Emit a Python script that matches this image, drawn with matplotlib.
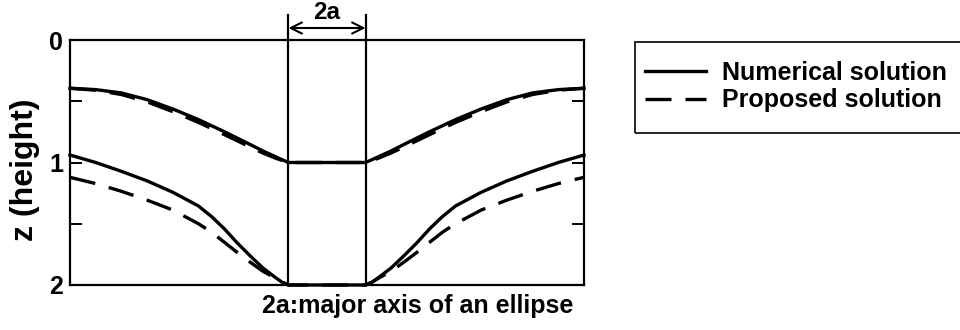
import numpy as np
import matplotlib
matplotlib.use("Agg")
import matplotlib.pyplot as plt
from matplotlib.patches import Rectangle

plt.rcParams["font.family"] = ["Liberation Sans", "DejaVu Sans"]
plt.rcParams["font.weight"] = "bold"

# half width of the ellipse (a) and the plotted range
a_half = 1.5
x_range = 10.0

# left half of each profile (x <= -a); the right half is the mirror image
x_half = [-10.0, -9.0, -8.0, -7.0, -6.0, -5.0, -4.5, -4.0, -3.5, -3.0,
          -2.5, -2.0, -1.75, -1.5]
z_upper_num = [0.394, 0.405, 0.432, 0.487, 0.563, 0.650, 0.699, 0.748,
               0.800, 0.852, 0.905, 0.953, 0.977, 1.0]
z_upper_prop = [0.394, 0.410, 0.445, 0.505, 0.585, 0.673, 0.722, 0.772,
                0.822, 0.873, 0.922, 0.965, 0.983, 1.0]
z_lower_num = [0.939, 1.000, 1.072, 1.150, 1.243, 1.355, 1.440, 1.540,
               1.655, 1.760, 1.860, 1.940, 1.977, 2.0]
z_lower_prop = [1.121, 1.172, 1.235, 1.307, 1.388, 1.500, 1.568, 1.650,
                1.733, 1.812, 1.887, 1.945, 1.977, 2.0]

y_ticks = [0, 0.5, 1, 1.5, 2]
y_ticklabels = ["0", "", "1", "", "2"]


def mirror(xs, zs):
    xs = np.asarray(xs)
    zs = np.asarray(zs)
    return np.concatenate([xs, -xs[::-1]]), np.concatenate([zs, zs[::-1]])


fig = plt.figure(figsize=(9.6, 3.3), dpi=100)
ax = fig.add_axes([70 / 960, 1 - 285 / 330, 514 / 960, 245 / 330])

lw = 2.4
dash = (0, (7.8, 4.2))
fs = 18

xs, zs = mirror(x_half, z_upper_num)
ln_num, = ax.plot(xs, zs, color="black", lw=lw, clip_on=False,
                  label="Numerical solution")
xs, zs = mirror(x_half, z_upper_prop)
ln_prop, = ax.plot(xs, zs, color="black", lw=lw, ls=dash, clip_on=False,
                   label="Proposed solution")
xs, zs = mirror(x_half, z_lower_num)
ax.plot(xs, zs, color="black", lw=lw, clip_on=False)
xs, zs = mirror(x_half, z_lower_prop)
ax.plot(xs, zs, color="black", lw=lw, ls=dash, clip_on=False)

# ellipse edges, extended above the frame
for xe in (-a_half, a_half):
    ax.plot([xe, xe], [-0.204, 2.0], color="black", lw=1.6, clip_on=False)

ax.annotate("", xy=(-a_half, -0.098), xytext=(a_half, -0.098),
            xycoords="data", annotation_clip=False,
            arrowprops=dict(arrowstyle="<->", color="black", lw=1.5,
                            mutation_scale=20, shrinkA=0, shrinkB=0))
ax.text(0, -0.17, "2a", ha="center", va="baseline", fontsize=17.5,
        fontweight="bold", clip_on=False)

ax.set_xlim(-x_range, x_range)
ax.set_ylim(2, 0)
ax.set_xticks([])
ax.set_yticks(y_ticks)
ax.set_yticklabels(y_ticklabels)
ax.tick_params(axis="y", direction="in", length=8.5, width=1.4,
               left=True, right=True, labelsize=fs, pad=5)
for lab in ax.get_yticklabels():
    lab.set_fontweight("bold")
for sp in ax.spines.values():
    sp.set_linewidth(1.6)

fig.text(25 / 960, 1 - 170 / 330, "z (height)", rotation=90, ha="center",
         va="center", fontsize=23, fontweight="bold")
fig.text(418 / 960, 1 - 306 / 330, "2a:major axis of an ellipse",
         ha="center", va="center", fontsize=fs, fontweight="bold")

# legend, with its frame drawn separately
fig.legend(handles=[ln_num, ln_prop], loc="center left",
           bbox_to_anchor=(645 / 960, 1 - 86.5 / 330), frameon=False,
           handlelength=2.44, handletextpad=0.64,
           labelspacing=0.15, borderpad=0.0, borderaxespad=0.0,
           prop={"weight": "bold", "size": fs})
fig.patches.append(Rectangle((635 / 960, 1 - 133 / 330), 340 / 960, 91 / 330,
                             transform=fig.transFigure, fill=False,
                             edgecolor="black", lw=1.2))

fig.savefig("out.png", dpi=100)
